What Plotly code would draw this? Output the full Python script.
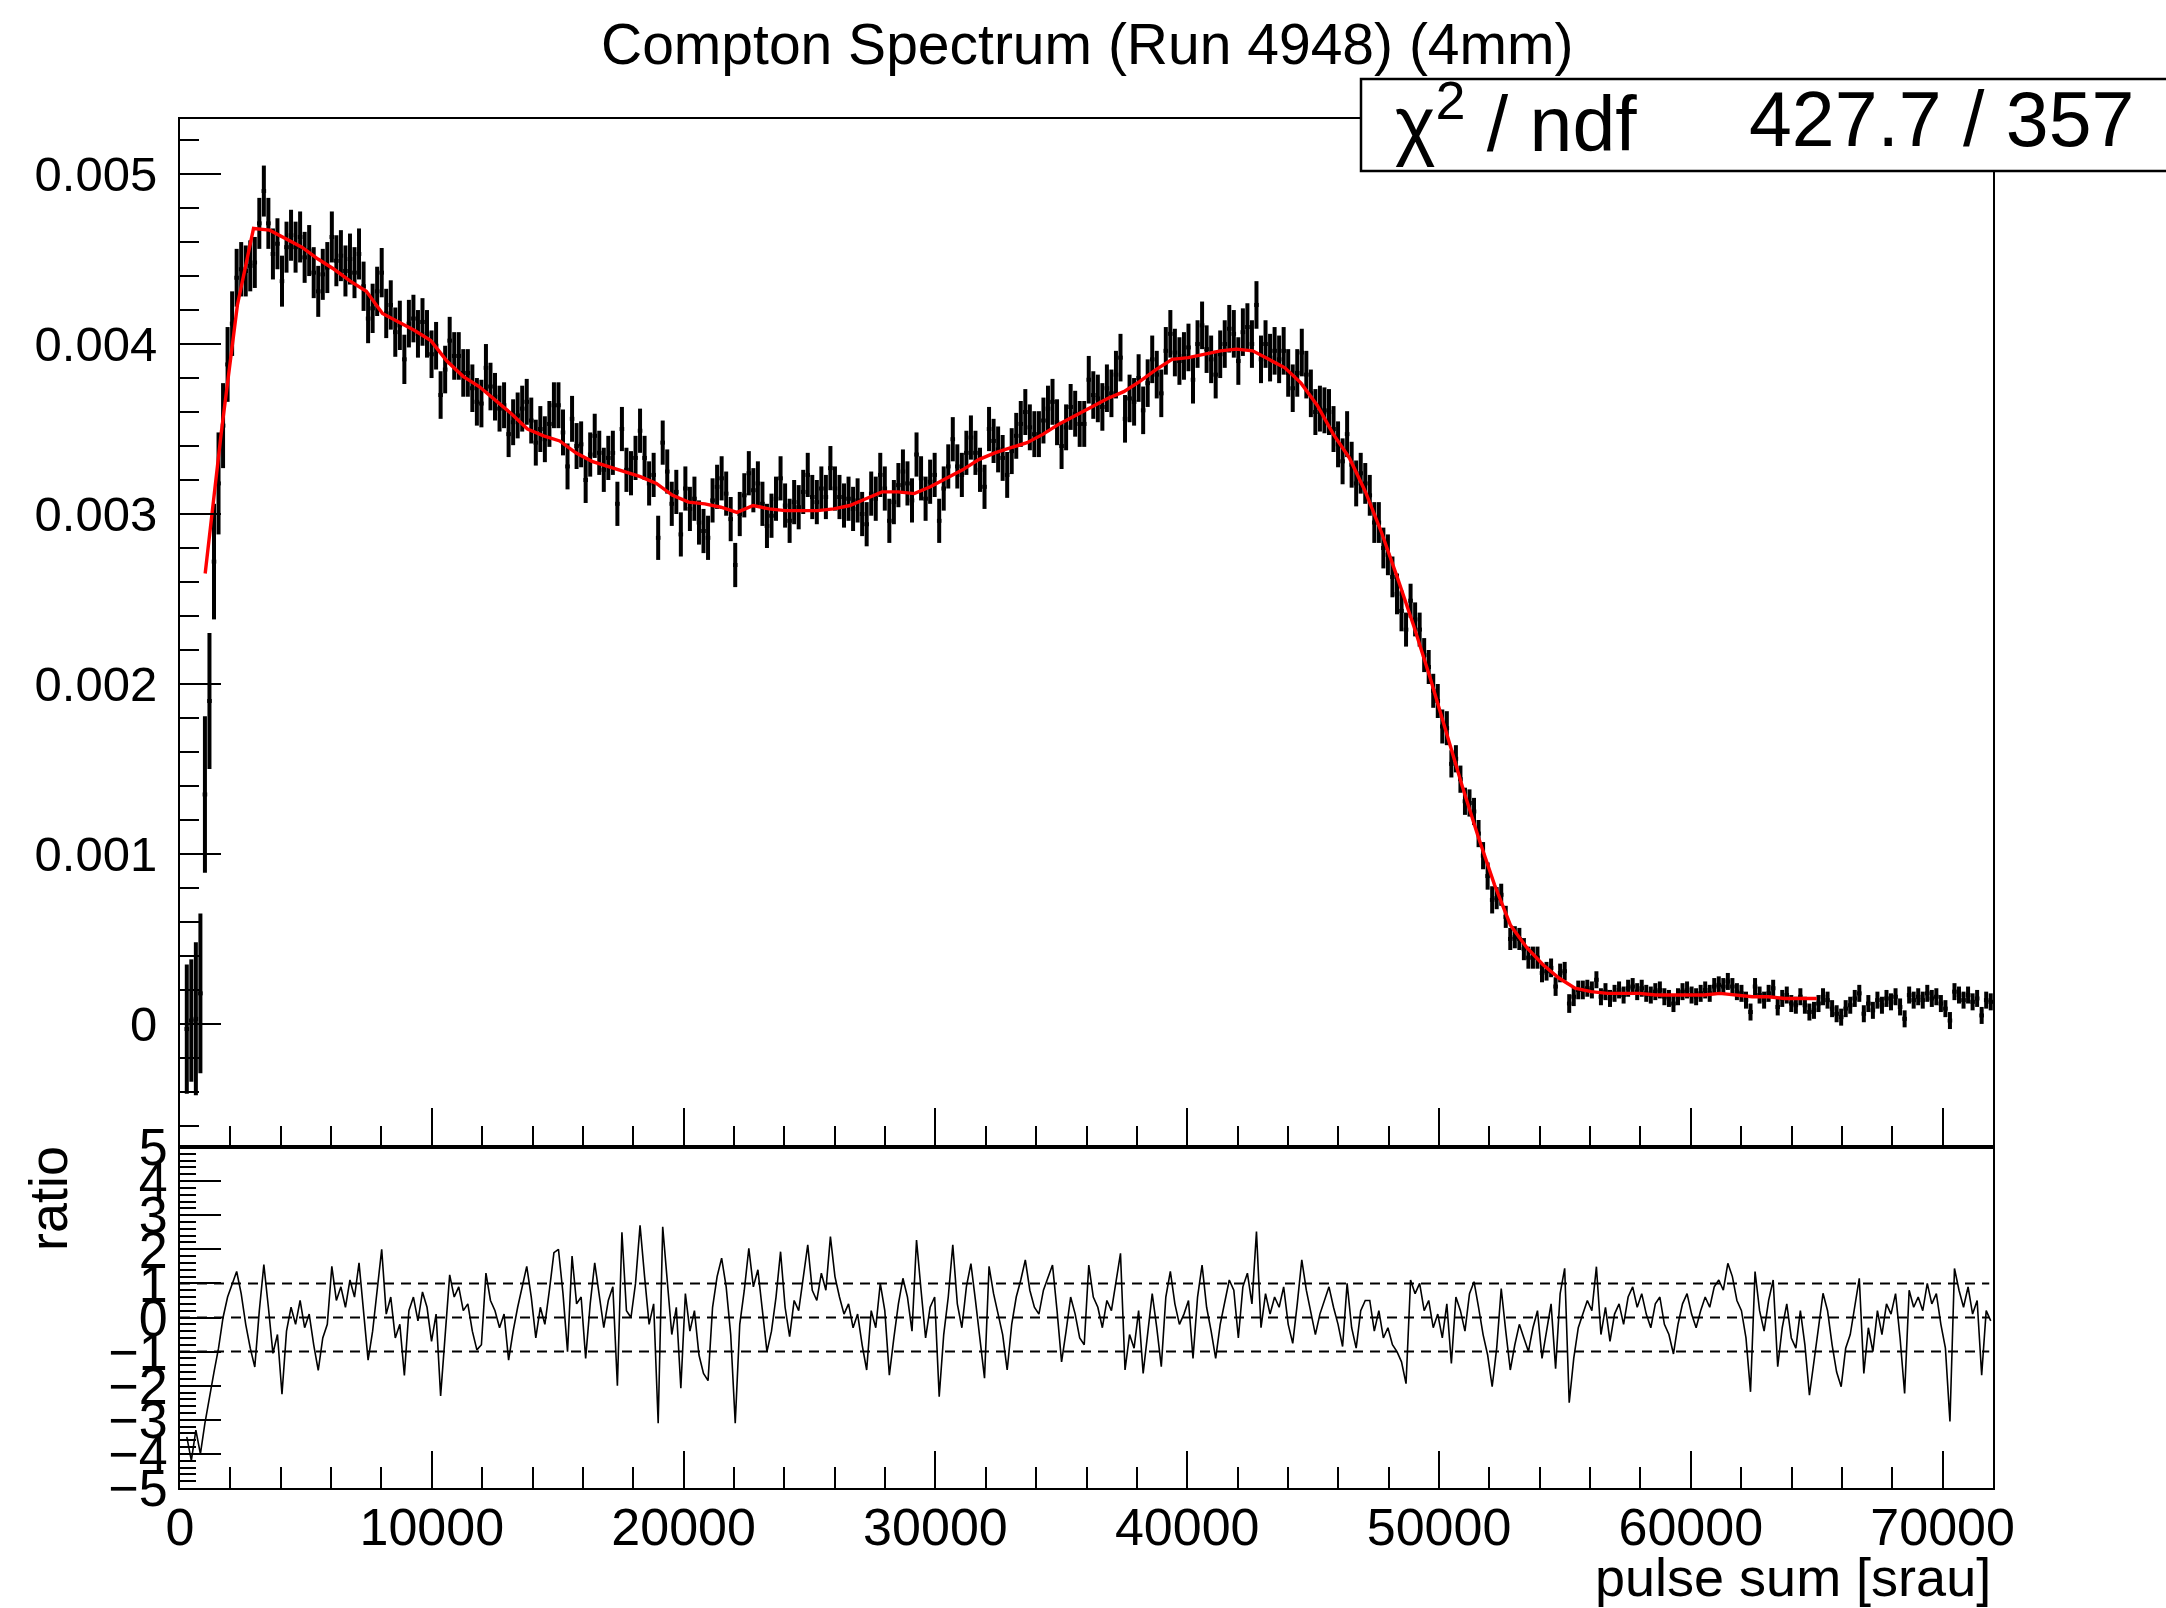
import numpy as np
import plotly.graph_objects as go

W, H = 2166, 1608
FONT = "Liberation Sans"

# ---------------- data ----------------
bin_width = 180.0
n_bins = 400
x_max = 72000.0

# histogram contents, units of 1e-5 (bin 0 empty)
counts_e5 = [None, -3, 2, 3, 18, 135, 190, 272, 318, 352,
             388, 412, 439, 444, 443, 446, 448, 471, 490, 471,
             453, 459, 437, 457, 464, 457, 463, 451, 455, 442,
             431, 441, 445, 463, 449, 452, 443, 450, 442, 453,
             434, 415, 421, 431, 442, 418, 423, 407, 411, 391,
             412, 415, 406, 413, 406, 394, 399, 370, 385, 402,
             393, 393, 383, 383, 374, 366, 365, 386, 375, 369,
             362, 364, 347, 354, 358, 362, 366, 355, 342, 350,
             344, 353, 364, 364, 348, 328, 356, 340, 341, 320,
             335, 346, 336, 326, 333, 336, 306, 350, 326, 324,
             333, 349, 333, 318, 323, 286, 342, 325, 306, 313,
             288, 315, 303, 309, 295, 290, 286, 308, 316, 321,
             312, 297, 270, 300, 311, 324, 314, 318, 306, 293,
             299, 309, 321, 305, 296, 307, 304, 313, 323, 310,
             307, 315, 310, 327, 315, 310, 305, 309, 303, 308,
             300, 294, 312, 309, 323, 315, 296, 307, 317, 325,
             318, 308, 335, 321, 309, 319, 323, 296, 315, 328,
             344, 328, 323, 336, 345, 336, 326, 316, 350, 343,
             338, 333, 323, 337, 346, 353, 360, 351, 347, 347,
             355, 362, 366, 354, 340, 351, 363, 359, 353, 353,
             379, 370, 368, 363, 374, 371, 382, 392, 356, 368,
             366, 380, 361, 377, 391, 382, 371, 396, 406, 395,
             390, 393, 398, 379, 400, 411, 397, 391, 382, 394,
             400, 409, 406, 390, 407, 410, 400, 423, 391, 400,
             392, 396, 391, 396, 383, 374, 383, 395, 382, 371,
             360, 362, 361, 360, 350, 341, 331, 347, 329, 318,
             324, 318, 311, 295, 295, 280, 276, 263, 253, 243,
             232, 249, 238, 232, 217, 210, 196, 190, 175, 174,
             153, 156, 144, 131, 130, 125, 112, 99, 87, 73,
             74, 76, 63, 50, 51, 50, 44, 39, 39, 39,
             30, 31, 33, 22, 30, 31, 12, 16, 20, 20,
             21, 20, 26, 16, 19, 15, 18, 20, 17, 21,
             22, 19, 21, 18, 17, 19, 20, 16, 15, 12,
             16, 19, 20, 17, 16, 18, 20, 18, 22, 23,
             22, 25, 22, 19, 18, 14, 7, 22, 17, 14,
             18, 21, 10, 15, 17, 12, 11, 16, 11, 7,
             8, 12, 16, 14, 9, 6, 4, 9, 11, 15,
             18, 6, 12, 8, 14, 11, 15, 13, 16, 10,
             3, 17, 14, 16, 14, 18, 15, 16, 12, 9,
             2, 19, 17, 14, 17, 13, 15, 5, 14, 13]

# bin errors, units of 1e-5: first 20 bins individually, then per block of 10 bins
err_first_e5 = [0, 38, 36, 45, 47, 46, 40, 34, 30, 25,
                22, 19, 17, 16, 15, 15, 15, 15, 15, 15]
err_block_e5 = [15, 15, 14.5, 14, 14, 13.5, 13.5, 13, 13, 13,
                13, 13, 13, 13, 13, 13, 13.5, 13.5, 14, 14,
                14, 14, 14, 13.5, 12, 10, 8, 6.5, 5.5, 5,
                5, 5, 5, 5, 5, 5, 5, 5]

# lower pad values for bins 1..399
ratio_vals = [-3.5, -4.2, -3.3, -4.0, -3.1, -2.3, -1.6, -0.9, 0.0,
              0.6, 1.0, 1.35, 0.7, -0.2, -0.9, -1.45, 0.2, 1.55, 0.3,
              -1.05, -0.5, -2.25, -0.4, 0.3, -0.2, 0.5, -0.3, 0.1, -0.8,
              -1.55, -0.6, -0.2, 1.5, 0.5, 0.9, 0.3, 1.1, 0.6, 1.6,
              0.2, -1.25, -0.4, 0.8, 2.0, 0.1, 0.6, -0.6, -0.2, -1.7,
              0.2, 0.6, -0.1, 0.75, 0.3, -0.7, 0.1, -2.3, -0.5, 1.25,
              0.6, 0.9, 0.2, 0.4, -0.4, -0.95, -0.8, 1.3, 0.5, 0.2,
              -0.3, 0.1, -1.25, -0.4, 0.3, 0.9, 1.5, 0.6, -0.6, 0.3,
              -0.2, 0.8, 1.9, 2.0, 0.7, -1.0, 1.8, 0.4, 0.6, -1.2,
              0.4, 1.6, 0.7, -0.3, 0.5, 0.9, -2.0, 2.5, 0.2, 0.0,
              1.0, 2.7, 1.2, -0.2, 0.4, -3.1, 2.66, 1.2, -0.5, 0.3,
              -2.07, 0.7, -0.4, 0.2, -1.1, -1.64, -1.85, 0.3, 1.2, 1.74,
              0.9, -0.5, -3.1, -0.2, 0.8, 2.03, 0.9, 1.4, 0.2, -1.0,
              -0.4, 0.6, 1.93, 0.3, -0.56, 0.5, 0.2, 1.1, 2.13, 0.8,
              0.5, 1.3, 0.8, 2.37, 1.2, 0.6, 0.1, 0.4, -0.3, 0.1,
              -0.8, -1.54, 0.2, -0.3, 1.0, 0.2, -1.69, -0.6, 0.4, 1.15,
              0.6, -0.4, 2.27, 0.8, -0.6, 0.3, 0.6, -2.32, -0.5, 0.6,
              2.13, 0.4, -0.3, 0.9, 1.58, 0.5, -0.6, -1.78, 1.5, 0.7,
              0.1, -0.5, -1.54, -0.2, 0.6, 1.1, 1.69, 0.8, 0.3, 0.1,
              0.8, 1.2, 1.54, 0.2, -1.3, -0.4, 0.6, 0.1, -0.6, -0.8,
              1.54, 0.6, 0.3, -0.3, 0.5, 0.2, 1.1, 1.88, -1.54, -0.5,
              -0.9, 0.2, -1.64, -0.4, 0.7, -0.3, -1.44, 0.6, 1.35, 0.4,
              -0.2, 0.1, 0.5, -1.2, 0.6, 1.54, 0.3, -0.4, -1.2, -0.2,
              0.4, 1.1, 0.8, -0.6, 0.9, 1.3, 0.4, 2.52, -0.3, 0.7,
              0.1, 0.6, 0.3, 0.9, -0.2, -0.76, 0.4, 1.69, 0.8, 0.2,
              -0.5, 0.1, 0.5, 0.9, 0.3, -0.2, -0.85, 1.0, -0.3, -0.9,
              0.2, 0.5, 0.5, -0.4, 0.2, -0.6, -0.3, -0.8, -1.0, -1.3,
              -1.94, 1.1, 0.7, 1.0, 0.2, 0.5, -0.3, 0.1, -0.6, 0.4,
              -1.35, 0.6, 0.2, -0.4, 0.7, 1.05, 0.3, -0.5, -1.1, -2.03,
              -0.9, 0.85, -0.4, -1.54, -0.8, -0.2, -0.6, -1.0, -0.3, 0.2,
              -1.2, -0.4, 0.4, -1.5, 0.7, 1.44, -2.5, -1.2, -0.3, 0.1,
              0.5, 0.2, 1.49, -0.5, 0.3, -0.7, 0.1, 0.4, -0.2, 0.6,
              0.9, 0.3, 0.7, 0.1, -0.3, 0.4, 0.6, -0.2, -0.5, -1.07,
              -0.2, 0.4, 0.7, 0.1, -0.3, 0.2, 0.6, 0.3, 0.9, 1.1,
              0.8, 1.59, 1.2, 0.5, 0.2, -0.6, -2.18, 1.35, 0.2, -0.4,
              0.5, 1.1, -1.44, -0.3, 0.4, -0.6, -0.9, 0.2, -0.8, -2.28,
              -1.2, -0.3, 0.71, 0.2, -0.8, -1.6, -2.03, -0.9, -0.5, 0.4,
              1.15, -1.64, -0.3, -1.0, 0.2, -0.5, 0.4, 0.1, 0.7, -0.6,
              -2.23, 0.8, 0.3, 0.6, 0.2, 1.0, 0.4, 0.7, -0.2, -0.9,
              -3.05, 1.44, 0.8, 0.3, 0.9, 0.1, 0.5, -1.69, 0.2, -0.1]

# fit curve: 101 points from 1000 to 65000, units of 1e-5
fit_x_min, fit_x_max = 1000.0, 65000.0
fit_e5 = [265, 348, 423, 468, 467, 462, 457, 450, 444, 437, 431,
          418, 413, 408, 402, 390, 381, 375, 367, 359, 350,
          346, 343, 336, 331, 328, 325, 322, 318, 311, 307,
          306, 304, 301, 305, 303, 302, 302, 302, 303, 305,
          309, 313, 313, 312, 316, 321, 326, 332, 336, 339,
          342, 347, 353, 358, 363, 368, 372, 378, 385, 391,
          392, 394, 396, 397, 396, 391, 386, 377, 364, 347,
          333, 313, 289, 262, 234, 204, 172, 140, 110, 82,
          58, 45, 35, 27, 21, 19, 18, 18, 18, 17,
          17, 17, 17, 18, 17, 16, 16, 15, 15, 15]

title_text = "Compton Spectrum (Run 4948) (4mm)"
x_title = "pulse sum [srau]"
ratio_title = "ratio"
chi2_label = "\u03c7<sup>2</sup> / ndf"
chi2_value = "427.7 / 357"

# ---------------- build arrays ----------------
centers = bin_width * np.arange(n_bins) + bin_width / 2
vals = np.array([np.nan if v is None else v for v in counts_e5], dtype=float) * 1e-5
errs = np.concatenate([np.array(err_first_e5, float),
                       np.repeat(np.array(err_block_e5, float), 10)]) * 1e-5
fit_x = np.linspace(fit_x_min, fit_x_max, len(fit_e5))
fit_y = np.array(fit_e5, float) * 1e-5
ratio_x = centers[1:1 + len(ratio_vals)]

# ---------------- layout geometry (px) ----------------
L, R = 180, 1993
T_MAIN, B_MAIN, B_RAT = 119, 1147, 1488
xd = [L / W, R / W]
yd_main = [1 - B_MAIN / H, 1 - T_MAIN / H]
yd_rat = [1 - B_RAT / H, 1 - B_MAIN / H]

fig = go.Figure()
fig.add_trace(go.Scatter(
    x=centers[1:], y=vals[1:], mode="markers",
    marker=dict(size=1, color="black"),
    error_y=dict(type="data", array=errs[1:], visible=True, width=0,
                 thickness=4, color="black"),
    error_x=dict(type="constant", value=bin_width / 2, visible=True, width=0,
                 thickness=4, color="black"),
    xaxis="x", yaxis="y", showlegend=False, hoverinfo="skip"))
fig.add_trace(go.Scatter(
    x=fit_x, y=fit_y, mode="lines", line=dict(color="red", width=3.4),
    xaxis="x", yaxis="y", showlegend=False, hoverinfo="skip"))
fig.add_trace(go.Scatter(
    x=ratio_x, y=ratio_vals, mode="lines", line=dict(color="black", width=1.6),
    xaxis="x2", yaxis="y2", showlegend=False, hoverinfo="skip"))

tickfont = dict(family=FONT, size=52, color="black")
common_x = dict(range=[0, x_max], domain=xd, showline=True, linecolor="black",
                linewidth=2, mirror=True, ticks="inside", tickwidth=2,
                tickcolor="black", tick0=0, dtick=10000, showgrid=False,
                zeroline=False, automargin=False, tickformat="d",
                minor=dict(ticks="inside", ticklen=21, tickwidth=2,
                           tickcolor="black", tick0=0, dtick=2000, showgrid=False))

fig.update_layout(
    width=W, height=H, margin=dict(l=0, r=0, t=0, b=0, autoexpand=False),
    paper_bgcolor="white", plot_bgcolor="white",
    xaxis=dict(**common_x, anchor="y", ticklen=39, showticklabels=False),
    yaxis=dict(domain=yd_main, range=[-0.000724, 0.005324], anchor="x",
               showline=True, linecolor="black", linewidth=2, mirror=True,
               ticks="inside", ticklen=41, tickwidth=2, tickcolor="black",
               tick0=0, dtick=0.001, tickfont=dict(family=FONT, size=49, color="black"),
               showgrid=False, zeroline=False, ticklabelstandoff=11, automargin=False,
               minor=dict(ticks="inside", ticklen=19, tickwidth=2,
                          tickcolor="black", tick0=0, dtick=0.0002, showgrid=False)),
    xaxis2=dict(**common_x, anchor="y2", ticklen=37, tickfont=tickfont,
                ticklabelstandoff=-7, matches="x"),
    yaxis2=dict(domain=yd_rat, range=[-5, 5], anchor="x2",
                showline=True, linecolor="black", linewidth=2, mirror=True,
                ticks="inside", ticklen=41, tickwidth=2, tickcolor="black",
                tick0=0, dtick=1, tickfont=tickfont, showgrid=False,
                zeroline=False, ticklabelstandoff=0, automargin=False,
                minor=dict(ticks="inside", ticklen=16, tickwidth=2,
                           tickcolor="black", tick0=0, dtick=0.2, showgrid=False)),
)

# dashed reference lines in the ratio pad
for yv in (-1, 0, 1):
    fig.add_shape(type="line", xref="x2", yref="y2", x0=0, x1=71850, y0=yv, y1=yv,
                  line=dict(color="black", width=2, dash="10px,7px"))

# fit-statistics box
fig.add_shape(type="rect", xref="paper", yref="paper",
              x0=1361 / W, x1=1.01, y0=1 - 171 / H, y1=1 - 79 / H,
              fillcolor="white", line=dict(color="black", width=2.5), layer="above")

ann_font = lambda s: dict(family=FONT, size=s, color="black")
fig.add_annotation(text=title_text, xref="paper", yref="paper", x=1087 / W, y=1 - 44 / H,
                   xanchor="center", yanchor="middle", showarrow=False, font=ann_font(57))
fig.add_annotation(text=chi2_label, xref="paper", yref="paper", x=1393 / W, y=1 - 119 / H,
                   xanchor="left", yanchor="middle", showarrow=False, font=ann_font(77))
fig.add_annotation(text=chi2_value, xref="paper", yref="paper", x=2136 / W, y=1 - 119 / H,
                   xanchor="right", yanchor="middle", showarrow=False, font=ann_font(77))
fig.add_annotation(text=x_title, xref="paper", yref="paper", x=1993 / W, y=1 - 1577 / H,
                   xanchor="right", yanchor="middle", showarrow=False, font=ann_font(54))
fig.add_annotation(text=ratio_title, xref="paper", yref="paper", x=48 / W, y=1 - 1199 / H,
                   xanchor="center", yanchor="middle", textangle=-90, showarrow=False,
                   font=ann_font(54))

fig.write_html("out.html")
